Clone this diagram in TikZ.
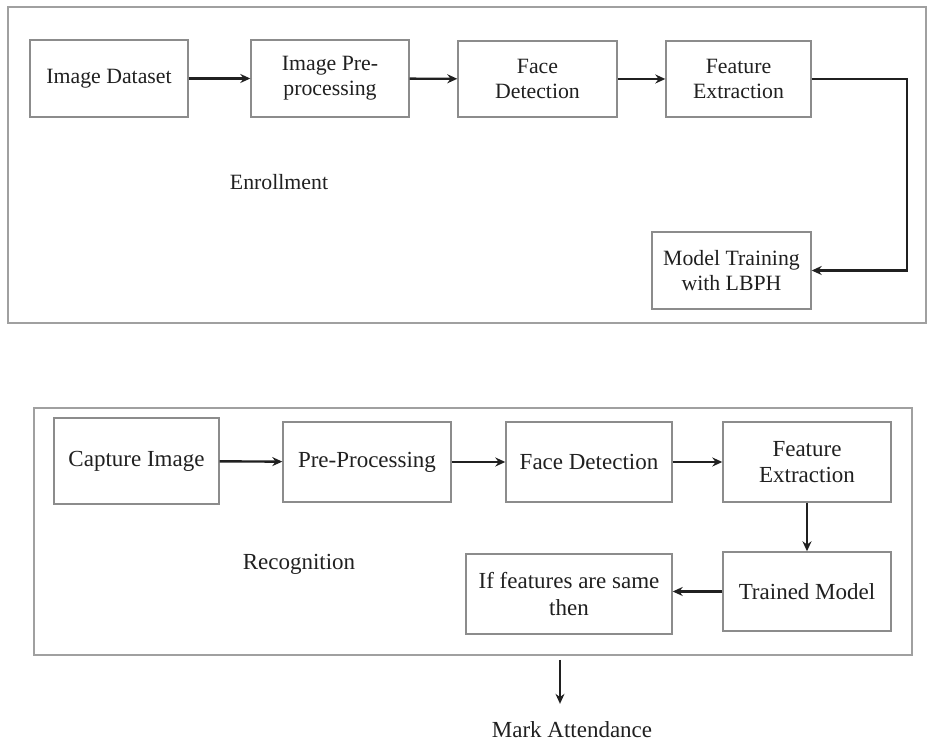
\documentclass[tikz,border=0pt]{standalone}
\usepackage{fontspec}
\setmainfont{Liberation Serif}
\usetikzlibrary{arrows.meta}
\definecolor{boxline}{HTML}{8C8C8C}
\definecolor{frameline}{HTML}{A0A0A0}
\definecolor{ink}{HTML}{202020}
\begin{document}
\begin{tikzpicture}[x=0.5pt, y=-0.5pt,
    block/.style={draw=boxline, line width=0.7pt, fill=white, text=ink, align=center, inner sep=0pt},
    toptext/.style={font=\fontsize{10.9}{12.6}\selectfont},
    lowtext/.style={font=\fontsize{11.5}{13.4}\selectfont},
    arr/.style={-{Stealth[length=5pt, width=4.5pt]}, line width=1.2pt, ink}]
    \useasboundingbox (0,0) rectangle (928,742);
    \draw[frameline, line width=0.8pt] (8,7) rectangle (926,323);
    \draw[frameline, line width=0.8pt] (34,408) rectangle (912,655);
    \node[block, toptext, minimum width=79pt, minimum height=38.5pt] (dataset) at (109,78.5) {Image Dataset};
    \node[block, toptext, minimum width=79pt, minimum height=38.5pt] (preproc) at (330,78.5) {Image Pre-\\processing};
    \node[block, toptext, minimum width=79.5pt, minimum height=38pt] (facedet) at (537.5,79) {Face\\Detection};
    \node[block, toptext, minimum width=72.5pt, minimum height=38pt] (featext) at (738.5,79) {Feature\\Extraction};
    \node[block, toptext, minimum width=79.5pt, minimum height=38.5pt] (training) at (731.5,270.5) {Model Training\\with LBPH};
    \node[toptext, text=ink] (enroll) at (279,182) {Enrollment};
    \draw[arr] (dataset) -- (preproc);
    \draw[arr] (preproc) -- (facedet);
    \draw[arr] (facedet) -- (featext);
    \draw[arr] (featext.east) -- ++(95,0) |- (training.east);
    \node[block, lowtext, minimum width=82.5pt, minimum height=43pt] (capture) at (136.5,461) {Capture Image};
    \node[block, lowtext, minimum width=84pt, minimum height=40pt] (prepro) at (367,462) {Pre-Processing};
    \node[block, lowtext, minimum width=83pt, minimum height=40pt] (facedetect) at (589,462) {Face Detection};
    \node[block, lowtext, minimum width=84pt, minimum height=40pt] (featextract) at (807,462) {Feature\\Extraction};
    \node[block, lowtext, minimum width=84pt, minimum height=39.5pt] (trained) at (807,591.5) {Trained Model};
    \node[block, lowtext, minimum width=103pt, minimum height=40pt] (ifsame) at (569,594) {If features are same\\then};
    \node[lowtext, text=ink] (recog) at (299,564) {Recognition};
    \node[lowtext, text=ink] (mark) at (572,730) {Mark Attendance};
    \coordinate (drop) at (560,660);
    \draw[arr] (capture) -- (prepro);
    \draw[arr] (prepro) -- (facedetect);
    \draw[arr] (facedetect) -- (featextract);
    \draw[arr] (featextract) -- (trained);
    \draw[arr] (trained.west) -- (trained.west -| ifsame.east);
    \draw[arr, shorten >=5.5pt] (drop) -- (drop |- mark.north);
\end{tikzpicture}
\end{document}
